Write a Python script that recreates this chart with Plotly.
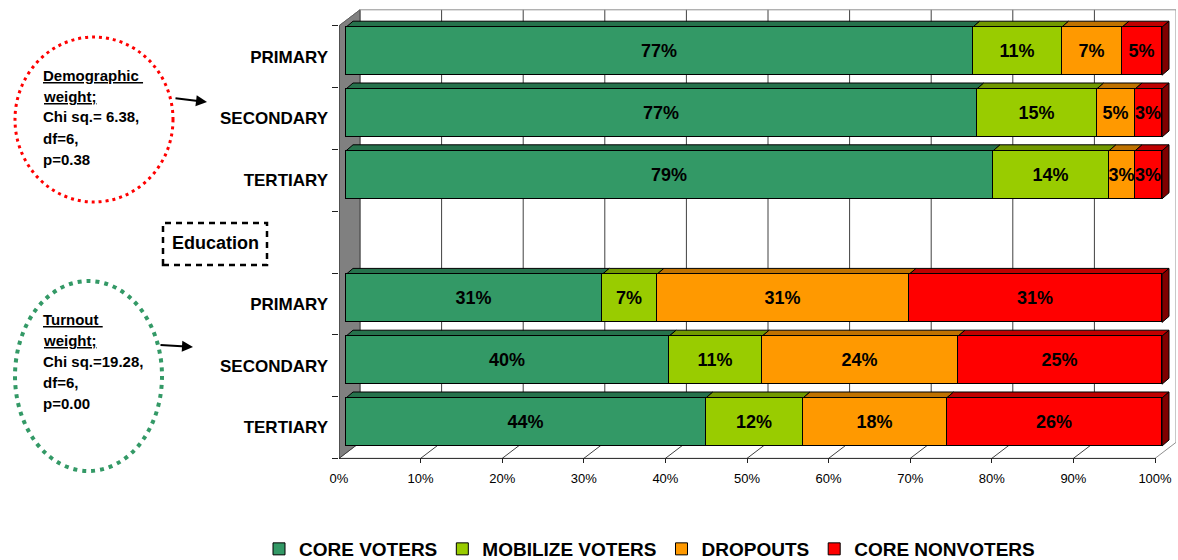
import plotly.graph_objects as go

# ---- data -------------------------------------------------------------
categories = ["PRIMARY", "SECONDARY", "TERTIARY", "PRIMARY", "SECONDARY", "TERTIARY"]
row_pos = [0, 1, 2, 4, 5, 6]          # row 3 is the empty separator row
series_names = ["CORE VOTERS", "MOBILIZE VOTERS", "DROPOUTS", "CORE NONVOTERS"]
core_voters = [76.8, 77.3, 79.3, 31.4, 39.6, 44.1]
mobilize_voters = [10.9, 14.7, 14.2, 6.7, 11.4, 11.9]
dropouts = [7.4, 4.7, 3.2, 30.9, 24.0, 17.6]
core_nonvoters = [4.9, 3.3, 3.3, 31.0, 25.0, 26.4]
series_values = [core_voters, mobilize_voters, dropouts, core_nonvoters]
series_colors = ["#339966", "#99CC00", "#FF9900", "#FF0000"]
x_ticks = list(range(0, 101, 10))
n_rows = 7

# ---- geometry ----------------------------------------------------------
W, H = 1178, 560
PLOT_L, PLOT_R, PLOT_T, PLOT_B = 339, 1176, 9, 463
XU = 8.16            # pixels per percent
YU = 61.8            # pixels per row
BAR0_PX = 346        # pixel of 0% on the bars' front face
ROW0_PX = 51.2       # pixel of first row centre on the bars' front face
BW = 48 / YU         # bar thickness in row units

def dx(p):
    return p / XU

def dy(p):
    return p / YU

FRONT = (dx(-7), dy(5.5))      # front plane (axes, floor edge)
BAR_BACK = (dx(7), dy(-6))     # depth of each bar
BACK = (dx(14), dy(-10.5))     # back wall

x_range = [-(BAR0_PX - PLOT_L) / XU, (PLOT_R - BAR0_PX) / XU]
y_range = [(PLOT_B - ROW0_PX) / YU, -(ROW0_PX - PLOT_T) / YU]


def xp(p):
    return (p - PLOT_L) / (PLOT_R - PLOT_L)


def yp(p):
    return (PLOT_B - p) / (PLOT_B - PLOT_T)


def shade(hex_color, f):
    h = hex_color.lstrip("#")
    r, g, b = (int(h[i:i + 2], 16) for i in (0, 2, 4))
    return "#%02x%02x%02x" % (int(r * f), int(g * f), int(b * f))


def line(x0, y0, x1, y1, color, width=1):
    return dict(type="line", xref="x", yref="y", x0=x0, y0=y0, x1=x1, y1=y1,
                line=dict(color=color, width=width), layer="below")


def poly(points, fill, color="black", width=1):
    path = "M " + " L ".join(f"{x},{y}" for x, y in points) + " Z"
    return dict(type="path", xref="x", yref="y", path=path, fillcolor=fill,
                line=dict(color=color, width=width), layer="below")


top_edge, bot_edge = -0.5, n_rows - 0.5
shapes = []

# left wall
shapes.append(poly([(FRONT[0], top_edge + FRONT[1]), (BACK[0], top_edge + BACK[1]),
                    (BACK[0], bot_edge + BACK[1]), (FRONT[0], bot_edge + FRONT[1])],
                   "#808080", "#808080", 1))
# back wall gridlines and border
for v in x_ticks:
    shapes.append(line(v + BACK[0], top_edge + BACK[1], v + BACK[0], bot_edge + BACK[1],
                       "#404040" if v < 100 else "#909090"))
shapes.append(line(BACK[0], top_edge + BACK[1], 100 + BACK[0], top_edge + BACK[1], "#909090"))
# floor gridlines
for v in x_ticks:
    shapes.append(line(v + FRONT[0], bot_edge + FRONT[1], v + BACK[0], bot_edge + BACK[1],
                       "#404040" if v < 100 else "#909090"))
# front edges of floor and left wall
shapes.append(line(FRONT[0], bot_edge + FRONT[1], 100 + FRONT[0], bot_edge + FRONT[1], "#202020"))
shapes.append(line(FRONT[0], top_edge + FRONT[1], FRONT[0], bot_edge + FRONT[1], "#202020"))
shapes.append(line(FRONT[0], top_edge + FRONT[1], BACK[0], top_edge + BACK[1], "#606060"))

# top and side faces of the stacked bars
for r, pos in enumerate(row_pos):
    start = 0.0
    yt, yb = pos - BW / 2, pos + BW / 2
    for s, vals in enumerate(series_values):
        x0, x1 = start, start + vals[r]
        shapes.append(poly([(x0, yt), (x1, yt), (x1 + BAR_BACK[0], yt + BAR_BACK[1]),
                            (x0 + BAR_BACK[0], yt + BAR_BACK[1])],
                           shade(series_colors[s], 0.75)))
        if s == len(series_values) - 1:
            shapes.append(poly([(x1, yt), (x1 + BAR_BACK[0], yt + BAR_BACK[1]),
                                (x1 + BAR_BACK[0], yb + BAR_BACK[1]), (x1, yb)],
                               shade(series_colors[s], 0.5)))
        start = x1

# ---- side notes ---------------------------------------------------------
BOLD = "Liberation Sans"
shapes.append(dict(type="circle", xref="paper", yref="paper",
                   x0=xp(15), x1=xp(173), y0=yp(202), y1=yp(37),
                   line=dict(color="#FF0000", width=3, dash="3px,4px")))
shapes.append(dict(type="circle", xref="paper", yref="paper",
                   x0=xp(15), x1=xp(162), y0=yp(471), y1=yp(281),
                   line=dict(color="#339966", width=4, dash="4px,5px")))
shapes.append(dict(type="rect", xref="paper", yref="paper",
                   x0=xp(163), x1=xp(267), y0=yp(265), y1=yp(223),
                   line=dict(color="black", width=2.5, dash="6px,5px")))

annotations = []
notes = [
    (["<u>Demographic </u>", "<u>weight;</u>", "Chi sq.= 6.38,", "df=6,", "p=0.38"], 75, (174, 98), (207, 102)),
    (["<u>Turnout </u>", "<u>weight;</u>", "Chi sq.=19.28,", "df=6,", "p=0.00"], 319, (159, 345), (193, 347)),
]
for lines, y0, tail, head in notes:
    for i, t in enumerate(lines):
        annotations.append(dict(xref="paper", yref="paper", x=xp(41), y=yp(y0 + 21 * i),
                                xanchor="left", yanchor="middle", showarrow=False,
                                text=f"<b>{t}</b>",
                                font=dict(family=BOLD, size=15, color="black")))
    annotations.append(dict(xref="paper", yref="paper", x=xp(head[0]), y=yp(head[1]),
                            ax=tail[0] - head[0], ay=tail[1] - head[1], text="",
                            showarrow=True, arrowhead=2, arrowsize=1.1, arrowwidth=2,
                            arrowcolor="black"))
annotations.append(dict(xref="paper", yref="paper", x=xp(215), y=yp(243), showarrow=False,
                        text="<b>Education</b>", xanchor="center", yanchor="middle",
                        font=dict(family=BOLD, size=18, color="black")))

# ---- figure -------------------------------------------------------------
fig = go.Figure()
for name, vals, color in zip(series_names, series_values, series_colors):
    fig.add_trace(go.Bar(
        y=row_pos, x=vals, orientation="h", name=f"<b>{name}</b>", width=BW,
        marker=dict(color=color, line=dict(color="black", width=1)),
        texttemplate="<b>%{x:.0f}%</b>", textposition="inside", insidetextanchor="middle",
        textangle=0, constraintext="none",
        textfont=dict(family=BOLD, size=18, color="black"),
        hoverinfo="skip",
    ))

fig.update_layout(
    width=W, height=H, barmode="stack", bargap=0,
    margin=dict(l=PLOT_L, r=W - PLOT_R, t=PLOT_T, b=H - PLOT_B, pad=0, autoexpand=False),
    paper_bgcolor="white", plot_bgcolor="white",
    font=dict(family=BOLD, color="black"),
    shapes=shapes, annotations=annotations,
    legend=dict(orientation="h", x=xp(259), xanchor="left", y=yp(549), yanchor="middle",
                font=dict(family=BOLD, size=19, color="black", weight="bold"),
                itemwidth=30, traceorder="normal"),
    xaxis=dict(range=x_range, showgrid=False, zeroline=False, showline=False,
               tickmode="array", tickvals=[v + FRONT[0] for v in x_ticks],
               ticktext=[f"{v}%" for v in x_ticks], ticks="inside", ticklen=5,
               tickcolor="#202020", tickfont=dict(family=BOLD, size=13, color="black"),
               ticklabelstandoff=6),
    yaxis=dict(range=y_range, showgrid=False, zeroline=False, showline=False,
               tickmode="array", tickvals=[p + FRONT[1] for p in row_pos],
               ticktext=[f"<b>{c}</b>" for c in categories], ticks="",
               tickfont=dict(family=BOLD, size=17, color="black"),
               ticklabelstandoff=10,
               minor=dict(tickmode="array",
                          tickvals=[i - 0.5 + FRONT[1] for i in range(n_rows + 1)],
                          ticks="outside", ticklen=6, tickcolor="#202020", showgrid=False)),
)

fig.write_html("out.html")
